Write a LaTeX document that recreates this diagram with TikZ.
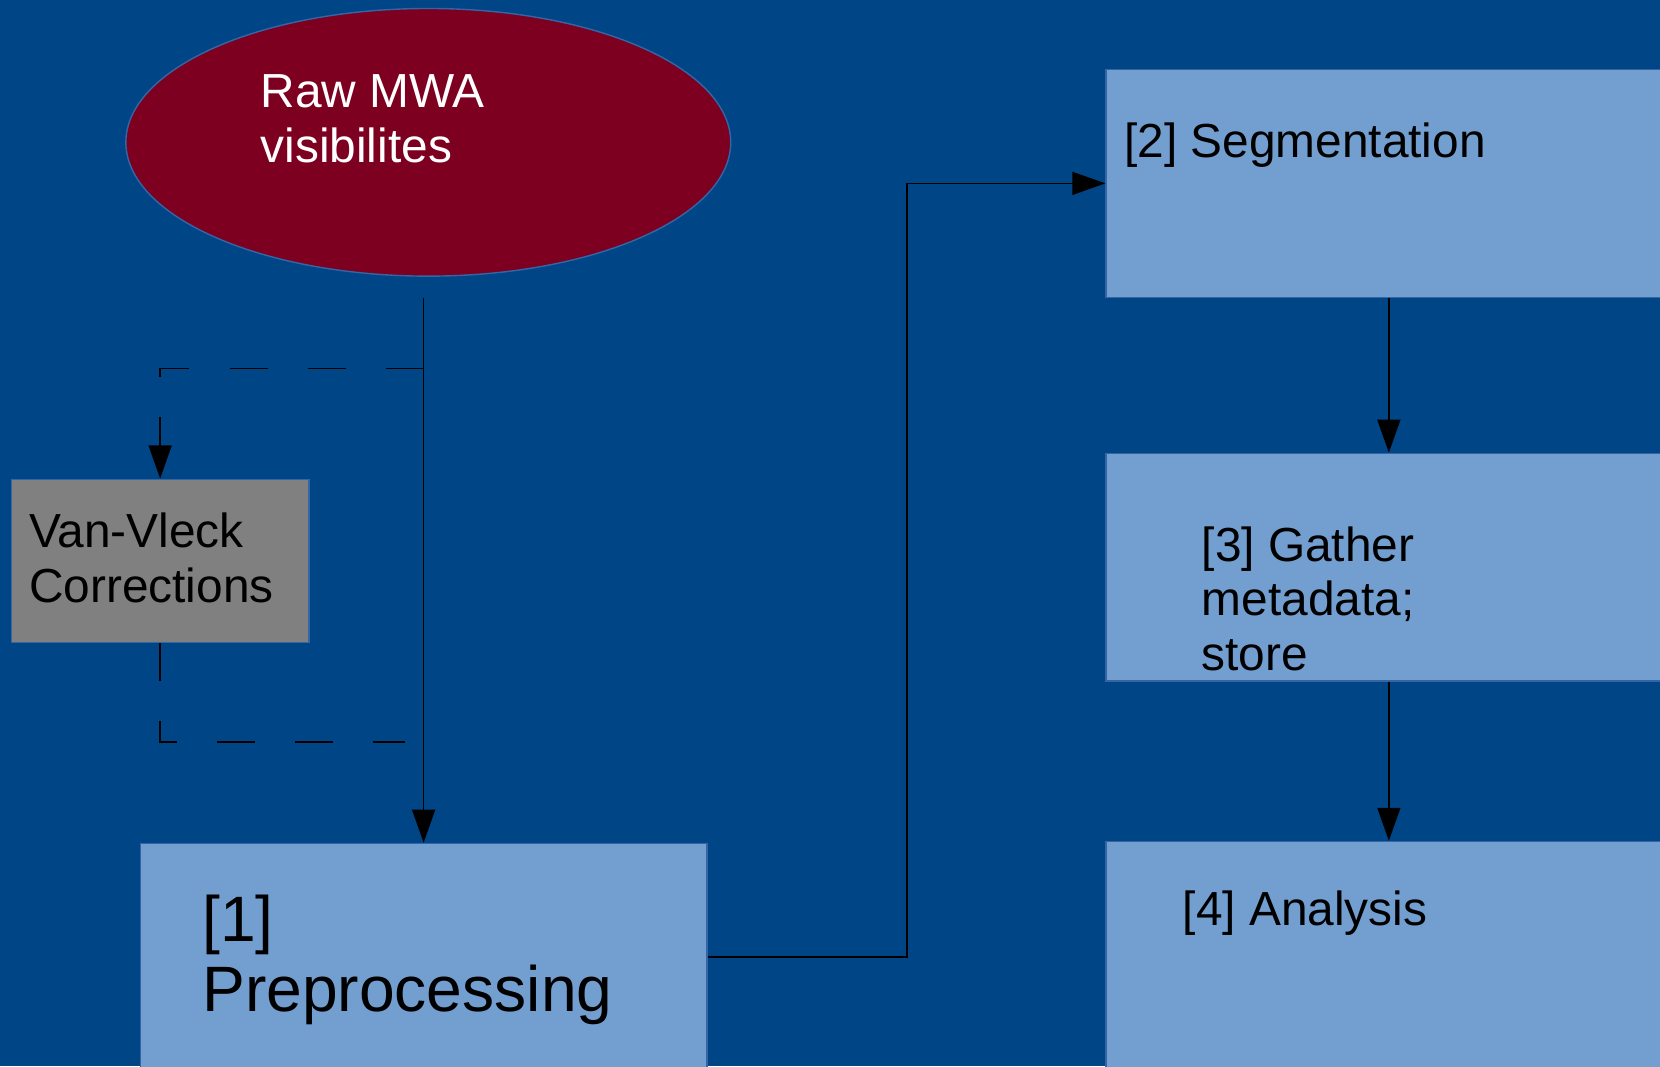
\documentclass[tikz,border=0pt]{standalone}
\usepackage{fontspec}
\setmainfont{Liberation Sans}
\usetikzlibrary{arrows.meta,positioning,calc,shapes.geometric}
\definecolor{mwabg}{HTML}{004586}
\definecolor{mwared}{HTML}{7E0021}
\definecolor{mwabox}{HTML}{729FCF}
\definecolor{mwaedge}{HTML}{3465A4}
\definecolor{mwagrey}{HTML}{808080}
\newcommand{\txtnorm}{\fontsize{13.6pt}{15.4pt}\selectfont}
\newcommand{\txtbig}{\fontsize{18.25pt}{19.9pt}\selectfont}

\begin{document}
\begin{tikzpicture}[
  x=0.01cm, y=-0.01cm,
  stage/.style={draw=mwaedge, line width=0.4pt, fill=mwabox, anchor=north west,
                inner sep=0pt, minimum width=5.654cm, minimum height=2.276cm},
  corr/.style={stage, fill=mwagrey, minimum width=2.975cm, minimum height=1.631cm},
  src/.style={ellipse, draw=mwaedge, line width=0.4pt, fill=mwared, inner sep=0pt,
              minimum width=6.045cm, minimum height=2.675cm},
  txt/.style={font=\txtnorm, align=left, inner sep=0pt, anchor=base west, text=black},
  arrow/.style={-{Triangle[length=0.33cm, width=0.23cm]}, line width=0.45pt, black},
  dashline/.style={line width=0.45pt, black, dash pattern=on 0.38cm off 0.40cm},
]

%% ---- Page ----
\fill[mwabg] (0,0) rectangle (1660,1066);
\useasboundingbox (0,0) rectangle (1660,1066);
\clip (0,0) rectangle (1660,1066);

%% ---- Left column: raw data, correction, preprocessing ----
%% (text nodes sit on the baseline of their last line)
\node[src] (raw) at (428.3,142.3) {};
\node[txt, text=white] (raw-txt) at (260,162) {Raw MWA\\visibilites};

\node[corr] (vv) at (10.6,478.5) {};
\node[txt] (vv-txt) at (28.5,602) {Van-Vleck\\Corrections};

\node[stage, minimum width=5.665cm, minimum height=2.266cm] (pre) at (139.5,842.7) {};
\node[txt, font=\txtbig] (pre-txt) at (201.5,1011.7) {[1]\\Preprocessing};

%% ---- Right column: pipeline stages ----
\node[stage] (seg) at (1105.3,68.8) {};
\node[txt] (seg-txt) at (1123.5,157) {[2] Segmentation};

\node[stage, below=1.546cm of seg] (meta) {};
\node[txt] (meta-txt) at (1201,670) {[3] Gather\\metadata;\\store};

\node[stage, minimum height=2.268cm, below=1.589cm of meta] (ana) {};
\node[txt] (ana-txt) at (1182,925) {[4] Analysis};

%% ---- Connectors ----
\coordinate (tapin) at (pre.north |- 0,368.4);
\coordinate (tapout) at (405,742);

\draw[arrow, shorten <=0.207cm] (pre.north |- raw.south) -- (pre.north);
\draw[dashline, -{Triangle[length=0.33cm, width=0.23cm]}] (tapin) -| (vv.north);
\draw[dashline] (vv.south) |- (tapout);

\draw[arrow] (pre.east) -- ++(199,0) |- (seg.west);
\draw[arrow] (seg.south) -- (meta.north);
\draw[arrow] (meta.south) -- (ana.north);

\end{tikzpicture}
\end{document}
